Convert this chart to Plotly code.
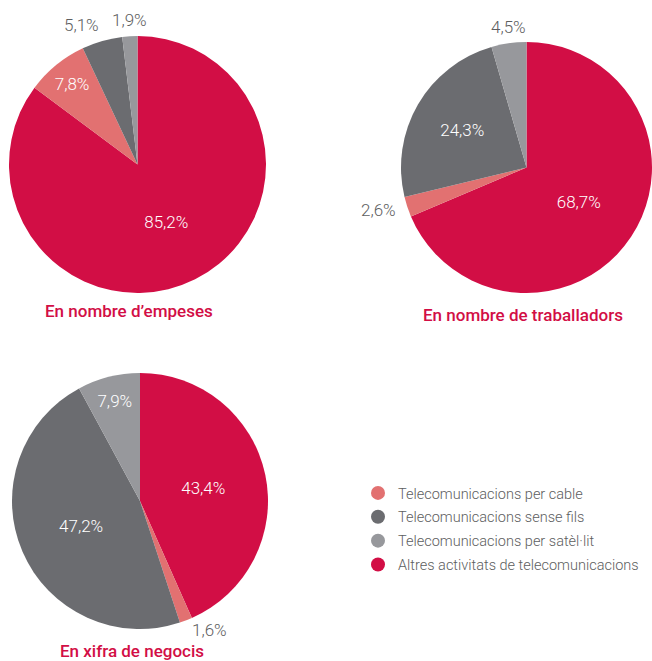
import math
import plotly.graph_objects as go

# Categories (legend order) and their colours
categories = [
    "Telecomunicacions per cable",
    "Telecomunicacions sense fils",
    "Telecomunicacions per satèl·lit",
    "Altres activitats de telecomunicacions",
]
colors = ["#e27171", "#6b6c70", "#97989c", "#d20e45"]

# Shares (%) per category, same order as `categories`
empreses = [7.8, 5.1, 1.9, 85.2]
treballadors = [2.6, 24.3, 4.5, 68.7]
negocis = [1.6, 47.2, 7.9, 43.4]

titles = ["En nombre d’empeses", "En nombre de traballadors", "En xifra de negocis"]

# Slices are drawn clockwise from 12 o'clock starting with "Altres"
slice_order = [3, 0, 1, 2]

W, H = 652, 661
FONT = "Roboto"
LABEL_GREY = "#5d5e60"
CRIMSON = "#d20e45"
LABEL_SIZE = 17


def fmt(v):
    return f"{v:.1f}".replace(".", ",") + "%"


# Pie boxes in pixels: (left, top, right, bottom)
pies = [
    dict(values=empreses, title=titles[0],
         pos=["inside", "outside", "outside", "inside"],
         box=(9, 36, 266, 293)),
    dict(values=treballadors, title=titles[1],
         pos=["outside", "inside", "outside", "inside"],
         box=(401, 42, 652, 293)),
    dict(values=negocis, title=titles[2],
         pos=["outside", "inside", "inside", "inside"],
         box=(12, 373, 268, 629)),
]

fig = go.Figure()

for p in pies:
    left, top, right, bottom = p["box"]
    vals = [p["values"][i] for i in slice_order]
    pos = [p["pos"][i] for i in slice_order]
    fig.add_trace(go.Pie(
        labels=[categories[i] for i in slice_order],
        values=vals,
        marker=dict(colors=[colors[i] for i in slice_order], line=dict(width=0)),
        sort=False,
        direction="clockwise",
        rotation=0,
        textinfo="none",
        # inside labels are drawn by the pie itself, outer ones as annotations
        texttemplate=["%{value:.1f}%" if t == "inside" else "" for t in pos],
        textposition="inside",
        insidetextorientation="horizontal",
        insidetextfont=dict(family=FONT, size=LABEL_SIZE, color="white", weight=300),
        domain=dict(x=[left / W, right / W], y=[(H - bottom) / H, (H - top) / H]),
        showlegend=False,
        hovertemplate="%{label}: %{value:.1f}%<extra></extra>",
    ))

    # outer labels placed just beyond the rim at each slice's mid angle
    cx, cy = (left + right) / 2, (top + bottom) / 2
    r = min(right - left, bottom - top) / 2
    total = sum(vals)
    cum = 0.0
    for v, t in zip(vals, pos):
        mid = 2 * math.pi * (cum + v / 2) / total
        cum += v
        if t != "outside":
            continue
        s, c = math.sin(mid), math.cos(mid)
        xa = "center" if abs(s) < 0.2 else ("left" if s > 0 else "right")
        ya = "bottom" if c > 0.3 else "middle"
        R = r + (4 if ya == "bottom" else 10)
        fig.add_annotation(
            text=fmt(v), x=(cx + R * s) / W, y=(H - (cy - R * c)) / H,
            xref="paper", yref="paper", showarrow=False,
            xanchor=xa, yanchor=ya,
            font=dict(family=FONT, size=LABEL_SIZE, color=LABEL_GREY, weight=300),
        )

# Legend entries with round markers
for name, col in zip(categories, colors):
    fig.add_trace(go.Scatter(
        x=[None], y=[None], mode="markers", name=name,
        legendgroup=name,
        marker=dict(symbol="circle", size=14, color=col),
    ))

# Chart titles under each pie
title_pos = [(129, 311), (523, 315), (132, 651)]
for text, (tx, ty) in zip(titles, title_pos):
    fig.add_annotation(
        text=text, x=tx / W, y=(H - ty) / H, xref="paper", yref="paper",
        showarrow=False, xanchor="center", yanchor="middle",
        font=dict(family=FONT, size=17, color=CRIMSON, weight=500),
    )

fig.update_layout(
    width=W, height=H,
    margin=dict(l=0, r=0, t=0, b=0),
    paper_bgcolor="white", plot_bgcolor="white",
    separators=", ",
    xaxis=dict(visible=False), yaxis=dict(visible=False),
    legend=dict(
        x=358 / W, y=(H - 477) / H, xanchor="left", yanchor="top",
        font=dict(family=FONT, size=14.5, color=LABEL_GREY, weight=300),
        tracegroupgap=2, itemsizing="trace", bgcolor="rgba(0,0,0,0)",
    ),
)

fig.write_html("out.html")
